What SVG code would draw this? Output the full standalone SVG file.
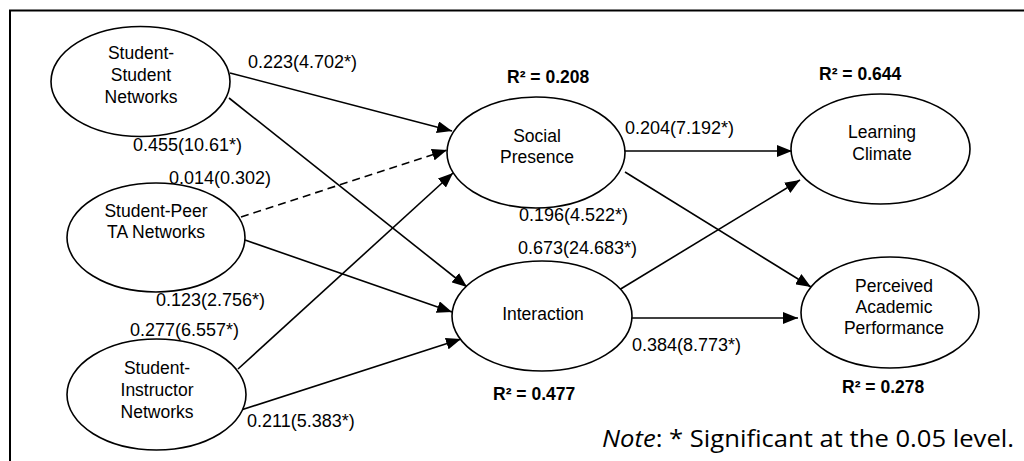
<svg xmlns="http://www.w3.org/2000/svg" width="1024" height="461" viewBox="0 0 1024 461">
<style>
.node ellipse{fill:#fff;stroke:#000;stroke-width:1.6}
.nt{font-family:"Liberation Sans",Arial,sans-serif;font-size:17.5px;fill:#000;text-anchor:middle}
.lbl{font-family:"Liberation Sans",Arial,sans-serif;font-size:18px;fill:#000}
.r2{font-family:"Liberation Sans",Arial,sans-serif;font-size:17.5px;font-weight:bold;fill:#000}
.conn line{stroke:#000;stroke-width:1.6;fill:none}
.dash{stroke-dasharray:8,5}
</style>
<defs>
<marker id="ah" markerUnits="userSpaceOnUse" markerWidth="16" markerHeight="12" refX="15" refY="6" orient="auto">
<path d="M0,0 L15,6 L0,12 z" fill="#000"/>
</marker>
</defs>
<rect width="1024" height="461" fill="#fff"/>
<path d="M10,470 L10,10.5 L1030,10.5" fill="none" stroke="#000" stroke-width="2"/>
<g class="conn">
<line x1="230" y1="73" x2="452" y2="131" marker-end="url(#ah)"/>
<line x1="229" y1="98" x2="467" y2="287" marker-end="url(#ah)"/>
<line class="dash" x1="241" y1="217" x2="447" y2="150" marker-end="url(#ah)"/>
<line x1="245" y1="240" x2="452" y2="312" marker-end="url(#ah)"/>
<line x1="238" y1="369" x2="453" y2="173" marker-end="url(#ah)"/>
<line x1="238" y1="411" x2="461" y2="339" marker-end="url(#ah)"/>
<line x1="625" y1="151" x2="792" y2="151" marker-end="url(#ah)"/>
<line x1="625" y1="172" x2="811" y2="287" marker-end="url(#ah)"/>
<line x1="619" y1="290" x2="800" y2="180" marker-end="url(#ah)"/>
<line x1="631" y1="318" x2="798" y2="318" marker-end="url(#ah)"/>
</g>
<g id="ss" class="node"><ellipse cx="140.5" cy="81.5" rx="89.5" ry="55"/>
<text class="nt" x="141" y="59">Student-</text><text class="nt" x="141" y="81">Student</text><text class="nt" x="141" y="103">Networks</text></g>
<g id="spta" class="node"><ellipse cx="156" cy="237.5" rx="89" ry="54.5"/>
<text class="nt" x="156" y="217">Student-Peer</text><text class="nt" x="156" y="238">TA Networks</text></g>
<g id="si" class="node"><ellipse cx="156.5" cy="394.5" rx="89.5" ry="55.5"/>
<text class="nt" x="157" y="374">Student-</text><text class="nt" x="157" y="396">Instructor</text><text class="nt" x="157" y="418">Networks</text></g>
<g id="sp" class="node"><ellipse cx="536" cy="152.5" rx="89" ry="55.5"/>
<text class="nt" x="537" y="142">Social</text><text class="nt" x="537" y="163">Presence</text></g>
<g id="int" class="node"><ellipse cx="542" cy="316" rx="90" ry="55"/>
<text class="nt" x="543" y="320">Interaction</text></g>
<g id="lc" class="node"><ellipse cx="880.5" cy="149" rx="89.5" ry="55"/>
<text class="nt" x="882" y="138">Learning</text><text class="nt" x="882" y="160">Climate</text></g>
<g id="pap" class="node"><ellipse cx="890" cy="312.5" rx="89" ry="55.5"/>
<text class="nt" x="894" y="292">Perceived</text><text class="nt" x="894" y="313">Academic</text><text class="nt" x="894" y="334">Performance</text></g>
<g id="labels">
<text class="lbl" x="248" y="68">0.223(4.702*)</text>
<text class="lbl" x="133" y="151">0.455(10.61*)</text>
<text class="lbl" x="169" y="184">0.014(0.302)</text>
<text class="lbl" x="156" y="306">0.123(2.756*)</text>
<text class="lbl" x="130" y="336">0.277(6.557*)</text>
<text class="lbl" x="247" y="427">0.211(5.383*)</text>
<text class="lbl" x="625" y="134">0.204(7.192*)</text>
<text class="lbl" x="519" y="221">0.196(4.522*)</text>
<text class="lbl" x="518" y="254">0.673(24.683*)</text>
<text class="lbl" x="632" y="351">0.384(8.773*)</text>
<text class="r2" x="507" y="83">R² = 0.208</text>
<text class="r2" x="819" y="80">R² = 0.644</text>
<text class="r2" x="493" y="400">R² = 0.477</text>
<text class="r2" x="842" y="393">R² = 0.278</text>
<text x="602" y="447" font-family="'Open Sans','Liberation Sans',sans-serif" font-size="24px" fill="#000" textLength="412" lengthAdjust="spacingAndGlyphs"><tspan font-style="italic">Note</tspan>: * Significant at the 0.05 level.</text>
</g>
</svg>
